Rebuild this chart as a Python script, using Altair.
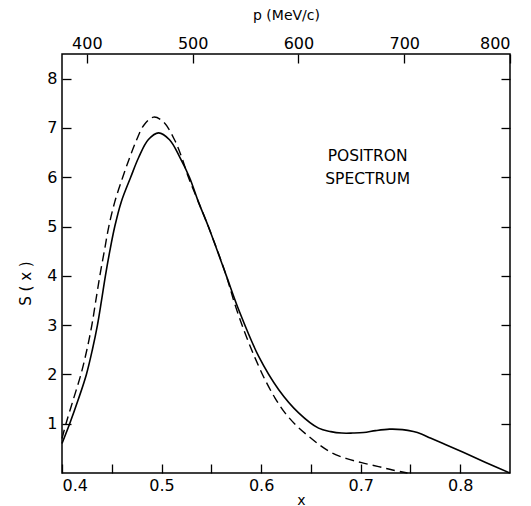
import altair as alt
import pandas as pd

# Solid curve S(x)
solid_x = [0.400, 0.4077, 0.4165, 0.4245, 0.4305, 0.4356, 0.4397, 0.4436, 0.448, 0.453,
           0.4595, 0.469, 0.477, 0.4866, 0.497, 0.508, 0.518, 0.528, 0.537, 0.547,
           0.5644, 0.5777, 0.5977, 0.6177, 0.6377, 0.6577, 0.670, 0.681, 0.692, 0.703,
           0.715, 0.729, 0.742, 0.753, 0.761, 0.770, 0.785, 0.803, 0.825, 0.850]
solid_y = [0.60, 1.00, 1.50, 2.00, 2.50, 3.00, 3.50, 4.00, 4.50, 5.00,
           5.50, 6.00, 6.40, 6.76, 6.90, 6.76, 6.42, 6.00, 5.50, 5.00,
           4.04, 3.30, 2.36, 1.69, 1.22, 0.91, 0.84, 0.81, 0.81, 0.82,
           0.86, 0.89, 0.88, 0.84, 0.79, 0.71, 0.58, 0.42, 0.22, 0.00]

# Dashed curve
dash_x = [0.400, 0.404, 0.4115, 0.419, 0.425, 0.430, 0.434, 0.438, 0.4425, 0.447,
          0.453, 0.461, 0.468, 0.475, 0.482, 0.492, 0.502, 0.513, 0.520, 0.527,
          0.537, 0.547, 0.5644, 0.574, 0.584, 0.594, 0.604, 0.614, 0.624, 0.636,
          0.648, 0.660, 0.671, 0.686, 0.701, 0.718, 0.732, 0.747]
dash_y = [0.70, 1.00, 1.50, 2.00, 2.50, 3.00, 3.50, 4.00, 4.50, 5.00,
          5.50, 6.00, 6.40, 6.76, 7.05, 7.22, 7.12, 6.76, 6.42, 6.00,
          5.50, 5.00, 4.04, 3.40, 2.83, 2.33, 1.89, 1.52, 1.22, 0.95,
          0.74, 0.55, 0.41, 0.29, 0.21, 0.13, 0.06, 0.00]

x_ticks = [0.40, 0.45, 0.50, 0.55, 0.60, 0.65, 0.70, 0.75, 0.80]
y_ticks = [1, 2, 3, 4, 5, 6, 7, 8]
p_ticks = [400, 500, 600, 700, 800]
note_lines = ["POSITRON", "SPECTRUM"]
note_x = [0.707, 0.707]
note_y = [6.44, 5.97]

X_DOM = [0.4, 0.85]
Y_DOM = [0, 8.5]
P_DOM = [376.5, 800]

FONT = "DejaVu Sans"
TICK = 9

solid_df = pd.DataFrame({"x": solid_x, "y": solid_y})
dash_df = pd.DataFrame({"x": dash_x, "y": dash_y})
note_df = pd.DataFrame({"t": note_lines, "x": note_x, "y": note_y})

xscale = alt.Scale(domain=X_DOM, nice=False, zero=False)
yscale = alt.Scale(domain=Y_DOM, nice=False, zero=False)

xaxis = alt.Axis(
    orient="bottom", values=x_ticks, offset=-TICK, tickSize=TICK, domain=False, grid=False,
    labelExpr="abs(datum.value*10 - round(datum.value*10)) < 0.001 ? format(datum.value, '.1f') : ''",
    labelPadding=4, labelFontSize=16, title="x", titleFontSize=14, titleFontWeight="normal",
    titlePadding=0, titleX=239, labelFont=FONT, titleFont=FONT, tickColor="black",
    labelColor="black", titleColor="black", tickWidth=1.3,
)
yaxis = alt.Axis(
    orient="left", values=y_ticks, offset=-TICK, tickSize=TICK, domain=False, grid=False,
    labelPadding=5, labelFontSize=16, title="S ( x )", titleFontSize=15, titleFontWeight="normal",
    titlePadding=13, titleY=229, labelFont=FONT, titleFont=FONT, tickColor="black",
    labelColor="black", titleColor="black", tickWidth=1.3,
)

solid = alt.Chart(solid_df).mark_line(color="black", strokeWidth=1.6, interpolate="catmull-rom").encode(
    x=alt.X("x:Q", scale=xscale, axis=xaxis),
    y=alt.Y("y:Q", scale=yscale, axis=yaxis),
)
dashed = alt.Chart(dash_df).mark_line(color="black", strokeWidth=1.4, strokeDash=[9, 5],
                                      interpolate="catmull-rom").encode(
    x=alt.X("x:Q", scale=xscale),
    y=alt.Y("y:Q", scale=yscale),
)
notes = alt.Chart(note_df).mark_text(font=FONT, fontSize=15.5, color="black", align="center",
                                     baseline="middle").encode(
    x=alt.X("x:Q", scale=xscale),
    y=alt.Y("y:Q", scale=yscale),
    text="t:N",
)
main = alt.layer(solid, dashed, notes)

top = alt.Chart(pd.DataFrame({"p": p_ticks})).mark_point(opacity=0).encode(
    x=alt.X("p:Q", scale=alt.Scale(domain=P_DOM, nice=False, zero=False),
            axis=alt.Axis(orient="top", values=p_ticks, offset=-TICK, tickSize=TICK, domain=False,
                          grid=False, labelPadding=3, labelFontSize=16, labelFont=FONT,
                          title="p (MeV/c)", titleFont=FONT, titleFontSize=14,
                          titleFontWeight="normal", titlePadding=13, tickColor="black",
                          labelColor="black", titleColor="black", tickWidth=1.3)),
)
right = alt.Chart(pd.DataFrame({"v": y_ticks})).mark_point(opacity=0).encode(
    y=alt.Y("v:Q", scale=alt.Scale(domain=Y_DOM, nice=False, zero=False),
            axis=alt.Axis(orient="right", values=y_ticks, offset=-TICK, tickSize=TICK, domain=False,
                          grid=False, labels=False, title=None, tickColor="black", tickWidth=1.3)),
)

chart = alt.layer(main, top, right).resolve_scale(x="independent", y="independent").properties(
    width=448, height=419,
    autosize=alt.AutoSizeParams(type="none"),
    padding={"left": 54, "top": 46, "right": 13, "bottom": 33},
    background="white",
).configure_view(stroke="black", strokeWidth=1.5)

chart.save("out.html", embed_options={"renderer": "svg", "actions": False})
